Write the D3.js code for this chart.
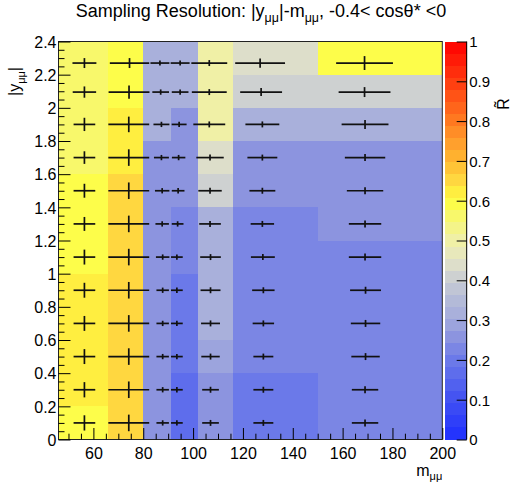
<!DOCTYPE html>
<html>
<head>
<meta charset="utf-8">
<script src="https://cdn.jsdelivr.net/npm/d3@7"></script>
<style>
  body { margin: 0; background: #fff; }
  svg { display: block; }
  text { font-family: "Liberation Sans", Arial, Helvetica, sans-serif; fill: #000; }
</style>
</head>
<body>
<svg id="chart" width="513" height="483"></svg>
<script>
// Bin edges
const massEdges = [46, 66, 80, 91, 102, 116, 150, 200];
const rapEdges = [0, 0.2, 0.4, 0.6, 0.8, 1.0, 1.2, 1.4, 1.6, 1.8, 2.0, 2.2, 2.4];

// Tick labels
const massTicks = [60, 80, 100, 120, 140, 160, 180, 200];
const rapTicks = [0, 0.2, 0.4, 0.6, 0.8, 1, 1.2, 1.4, 1.6, 1.8, 2, 2.2, 2.4];
const zTicks = [0, 0.1, 0.2, 0.3, 0.4, 0.5, 0.6, 0.7, 0.8, 0.9, 1];

// R~ per cell: one row per |y| bin (from |y| = 0 upward), one entry per mass bin
const rTilde = [
  [0.600, 0.655, 0.26, 0.16, 0.26, 0.20, 0.22],
  [0.625, 0.655, 0.26, 0.16, 0.26, 0.20, 0.22],
  [0.625, 0.655, 0.26, 0.20, 0.28, 0.22, 0.22],
  [0.625, 0.655, 0.26, 0.20, 0.32, 0.22, 0.22],
  [0.625, 0.655, 0.26, 0.20, 0.32, 0.22, 0.22],
  [0.600, 0.655, 0.26, 0.22, 0.32, 0.22, 0.22],
  [0.600, 0.655, 0.25, 0.22, 0.33, 0.22, 0.25],
  [0.600, 0.655, 0.26, 0.26, 0.40, 0.26, 0.26],
  [0.565, 0.625, 0.26, 0.26, 0.44, 0.26, 0.26],
  [0.565, 0.625, 0.31, 0.27, 0.50, 0.32, 0.32],
  [0.555, 0.600, 0.32, 0.32, 0.50, 0.40, 0.40],
  [0.555, 0.600, 0.33, 0.33, 0.50, 0.45, 0.60]
];

// Sampled mean |y| per rapidity bin
const rapMean = [0.10, 0.30, 0.50, 0.70, 0.90, 1.10, 1.30, 1.50, 1.70, 1.90, 2.095, 2.27];

// Sampled mean mass per cell
const massMean = [
  [56.4, 74.2, 87.8, 93.5, 107.0, 128.2, 169.0],
  [56.4, 74.2, 87.8, 93.5, 107.0, 128.2, 169.0],
  [56.4, 74.2, 87.8, 93.5, 107.0, 128.2, 169.2],
  [56.4, 74.2, 87.8, 93.5, 107.0, 128.2, 169.2],
  [56.4, 74.2, 87.8, 93.5, 107.0, 128.2, 169.2],
  [56.4, 74.2, 87.8, 93.5, 107.0, 128.0, 169.0],
  [56.4, 74.2, 87.6, 93.8, 106.8, 127.8, 169.0],
  [56.4, 74.2, 87.6, 94.0, 106.8, 127.8, 169.0],
  [56.4, 74.2, 87.3, 94.2, 106.8, 127.8, 169.0],
  [56.4, 74.2, 87.3, 94.4, 106.5, 127.8, 169.0],
  [56.4, 74.3, 87.0, 94.8, 106.5, 127.3, 168.8],
  [56.4, 74.5, 86.7, 94.8, 106.5, 126.9, 168.8]
];

// Mass resolution (half-width of the horizontal bar)
const massSigma = [
  [4.35, 8.2, 2.5, 2.35, 3.35, 4.0, 5.3],
  [4.35, 8.2, 2.5, 2.35, 3.35, 4.0, 5.3],
  [4.35, 8.2, 2.5, 2.35, 3.7, 4.0, 5.7],
  [4.35, 8.2, 2.5, 2.35, 3.8, 4.3, 5.9],
  [4.35, 8.2, 2.5, 2.35, 4.0, 4.5, 6.2],
  [4.35, 8.2, 2.7, 2.35, 4.15, 4.8, 6.5],
  [4.35, 8.2, 2.7, 2.35, 4.35, 4.7, 6.5],
  [4.35, 8.2, 2.9, 2.55, 4.7, 5.2, 7.3],
  [4.35, 8.2, 3.0, 2.7, 5.5, 6.0, 8.1],
  [4.35, 8.2, 3.2, 3.0, 6.4, 6.8, 9.4],
  [4.7, 8.2, 3.35, 3.35, 7.0, 8.4, 10.4],
  [4.8, 7.9, 3.8, 3.8, 7.2, 10.0, 11.4]
];

// |y| resolution (half-height of the vertical bar)
const rapSigma = [
  [0.046, 0.050, 0.016, 0.016, 0.018, 0.018, 0.021],
  [0.046, 0.050, 0.016, 0.016, 0.018, 0.018, 0.021],
  [0.045, 0.050, 0.016, 0.016, 0.018, 0.018, 0.021],
  [0.045, 0.050, 0.016, 0.016, 0.018, 0.018, 0.021],
  [0.045, 0.050, 0.016, 0.016, 0.018, 0.018, 0.021],
  [0.045, 0.050, 0.016, 0.016, 0.018, 0.018, 0.021],
  [0.042, 0.050, 0.016, 0.016, 0.018, 0.018, 0.021],
  [0.042, 0.050, 0.016, 0.016, 0.018, 0.018, 0.021],
  [0.038, 0.050, 0.016, 0.016, 0.018, 0.018, 0.021],
  [0.040, 0.047, 0.016, 0.016, 0.018, 0.018, 0.027],
  [0.034, 0.040, 0.016, 0.016, 0.018, 0.024, 0.030],
  [0.030, 0.030, 0.015, 0.015, 0.018, 0.028, 0.042]
];

// Colour palette: gradient stops, drawn as discrete contour bands
const paletteStops = [0, 0.1, 0.2, 0.25, 0.3, 0.35, 0.4, 0.45, 0.5, 0.55, 0.6, 0.65, 0.7, 0.75, 0.8, 0.9, 1];
const paletteColors = ["#1f2fff", "#4252f2", "#6c7ae9", "#8890e0", "#a2aadc", "#b4bad8", "#c9cdd3",
  "#e2e2c8", "#f0f0a6", "#f6f676", "#ffff40", "#ffd840", "#ffb830", "#ff9c2c", "#ff7a20", "#ff3c10", "#ff0000"];
const nContours = 33;

const svg = d3.select("#chart");
const frame = { left: 58.5, right: 442.3, top: 41.5, bottom: 439.5 };
const pal = { left: 445, right: 466.7 };

const x = d3.scaleLinear().domain([46, 200]).range([frame.left, frame.right]);
const y = d3.scaleLinear().domain([0, 2.4]).range([frame.bottom, frame.top]);
const z = d3.scaleLinear().domain([0, 1]).range([frame.bottom, frame.top]);
const grad = d3.scaleLinear().domain(paletteStops).range(paletteColors).interpolate(d3.interpolateRgb).clamp(true);
const band = v => Math.min(nContours - 1, Math.max(0, Math.floor(v * nContours)));
const colorOf = v => grad((band(v) + 0.5) / nContours);

// Cells
const cells = [];
rTilde.forEach((row, i) => row.forEach((v, j) => cells.push({ i, j, v })));
svg.append("g").attr("shape-rendering", "crispEdges")
  .selectAll("rect").data(cells).join("rect")
  .attr("x", d => x(massEdges[d.j]))
  .attr("y", d => y(rapEdges[d.i + 1]))
  .attr("width", d => x(massEdges[d.j + 1]) - x(massEdges[d.j]))
  .attr("height", d => y(rapEdges[d.i]) - y(rapEdges[d.i + 1]))
  .attr("fill", d => colorOf(d.v));

// Resolution crosses
const crosses = svg.append("g").attr("stroke", "#111").attr("stroke-width", 1.7).attr("fill", "none");
cells.forEach(d => {
  const cx = massMean[d.i][d.j], cy = rapMean[d.i];
  const sx = massSigma[d.i][d.j], sy = rapSigma[d.i][d.j];
  crosses.append("line").attr("x1", x(cx - sx)).attr("x2", x(cx + sx)).attr("y1", y(cy)).attr("y2", y(cy));
  crosses.append("line").attr("x1", x(cx)).attr("x2", x(cx)).attr("y1", y(cy - sy)).attr("y2", y(cy + sy));
});

// Frame
svg.append("rect").attr("x", frame.left).attr("y", frame.top)
  .attr("width", frame.right - frame.left).attr("height", frame.bottom - frame.top)
  .attr("fill", "none").attr("stroke", "#222").attr("stroke-width", 1);

// X axis: major and minor ticks drawn inward
const xMinor = d3.range(50, 201, 5).filter(v => v % 20 !== 0);
const xAxis = svg.append("g").attr("transform", `translate(0,${frame.bottom})`);
xAxis.call(d3.axisBottom(x).tickValues(massTicks).tickSize(-11.5).tickFormat(d3.format("d")));
xAxis.append("g").call(d3.axisBottom(x).tickValues(xMinor).tickSize(-5.8).tickFormat(""));
xAxis.selectAll(".domain").remove();
xAxis.selectAll("line").attr("stroke", "#000").attr("stroke-width", 1);
xAxis.selectAll("text").attr("font-size", 16).attr("dy", "0").attr("y", 19);

// Y axis
const yMinor = d3.range(0, 49).map(k => +(k * 0.05).toFixed(2)).filter(v => Math.abs(v * 5 - Math.round(v * 5)) > 1e-6);
const yAxis = svg.append("g").attr("transform", `translate(${frame.left},0)`);
yAxis.call(d3.axisLeft(y).tickValues(rapTicks).tickSize(-12).tickPadding(2).tickFormat(d => String(+d.toFixed(1))));
yAxis.append("g").call(d3.axisLeft(y).tickValues(yMinor).tickSize(-6).tickFormat(""));
yAxis.selectAll(".domain").remove();
yAxis.selectAll("line").attr("stroke", "#000").attr("stroke-width", 1);
yAxis.selectAll("text").attr("font-size", 16).attr("dy", "0.36em");

// Palette
const bands = d3.range(nContours);
svg.append("g").attr("shape-rendering", "crispEdges")
  .selectAll("rect").data(bands).join("rect")
  .attr("x", pal.left).attr("width", pal.right - pal.left)
  .attr("y", k => z((k + 1) / nContours)).attr("height", k => z(k / nContours) - z((k + 1) / nContours))
  .attr("fill", k => grad((k + 0.5) / nContours));
const zAxis = svg.append("g").attr("transform", `translate(${pal.right},0)`);
zAxis.call(d3.axisRight(z).tickValues(zTicks).tickSize(-10).tickPadding(2.5).tickFormat(d => String(+d.toFixed(1))));
zAxis.selectAll(".domain").attr("stroke", "#000").attr("d", `M0,${frame.top}V${frame.bottom}`);
zAxis.selectAll("line").attr("stroke", "#000");
zAxis.selectAll("text").attr("font-size", 15).attr("dy", "0.36em");

// Titles
const title = svg.append("text").attr("x", 261).attr("y", 17).attr("text-anchor", "middle").attr("font-size", 18);
title.append("tspan").text("Sampling Resolution: |y");
title.append("tspan").attr("font-size", 12.5).attr("dy", 5).text("μμ");
title.append("tspan").attr("dy", -5).text("|-m");
title.append("tspan").attr("font-size", 12.5).attr("dy", 5).text("μμ");
title.append("tspan").attr("dy", -5).text(", -0.4< cosθ* <0");

const xTitle = svg.append("text").attr("x", frame.right).attr("y", 476).attr("text-anchor", "end").attr("font-size", 16);
xTitle.append("tspan").text("m");
xTitle.append("tspan").attr("font-size", 11).attr("dy", 3.5).text("μμ");

const yTitle = svg.append("text").attr("transform", "translate(20,81.5) rotate(-90)")
  .attr("text-anchor", "middle").attr("font-size", 16);
yTitle.append("tspan").text("|y");
yTitle.append("tspan").attr("font-size", 11).attr("dy", 5).text("μμ");
yTitle.append("tspan").attr("dy", -5).text("|");

svg.append("text").attr("transform", "translate(509,104) rotate(-90)")
  .attr("text-anchor", "middle").attr("font-size", 16).text("R\u0303");
</script>
</body>
</html>
